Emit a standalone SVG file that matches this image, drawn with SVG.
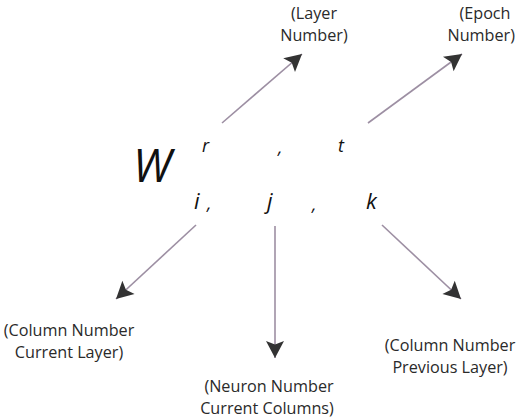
<svg xmlns="http://www.w3.org/2000/svg" width="517" height="420" viewBox="0 0 517 420">
<style>
.lbl{font-family:"Open Sans","Noto Sans",sans-serif;font-size:16.2px;fill:#2a2a2a;text-anchor:middle}
.math{font-family:"Open Sans","Noto Sans",sans-serif;font-style:italic;fill:#111}
.conn{stroke:#9d8fa3;stroke-width:1.6;fill:none;marker-end:url(#ah)}
</style>
<defs>
<marker id="ah" markerUnits="userSpaceOnUse" markerWidth="20" markerHeight="22" viewBox="-1 -11 20 22" refX="17" refY="0" orient="auto">
<path d="M0,-9 L17,0 L0,9 L3.5,0 z" fill="#333"/>
</marker>
</defs>
<rect width="517" height="420" fill="#fff"/>
<g id="connectors">
<line class="conn" x1="222" y1="123" x2="302" y2="54"/>
<line class="conn" x1="368" y1="123" x2="462" y2="54"/>
<line class="conn" x1="196" y1="225" x2="116" y2="299"/>
<line class="conn" x1="275" y1="226" x2="275" y2="358"/>
<line class="conn" x1="382" y1="225" x2="461" y2="299"/>
</g>
<g id="symbol">
<text class="math" x="133" y="182" font-size="45">W</text>
<text class="math" x="202" y="152" font-size="18">r</text>
<text class="math" x="278" y="154" font-size="18">,</text>
<text class="math" x="338" y="152" font-size="18">t</text>
<text class="math" x="194" y="209" font-size="22">i</text>
<text class="math" x="207" y="210" font-size="18">,</text>
<text class="math" x="267" y="209" font-size="22">j</text>
<text class="math" x="312" y="211" font-size="18">,</text>
<text class="math" x="366" y="209" font-size="22">k</text>
</g>
<g id="layer-number">
<text class="lbl" x="314" y="19">(Layer</text>
<text class="lbl" x="314" y="41">Number)</text>
</g>
<g id="epoch-number">
<text class="lbl" x="485" y="19">(Epoch</text>
<text class="lbl" x="515" y="41" style="text-anchor:end">Number)</text>
</g>
<g id="column-current">
<text class="lbl" x="69" y="336">(Column Number</text>
<text class="lbl" x="69" y="358">Current Layer)</text>
</g>
<g id="neuron-number">
<text class="lbl" x="269" y="392">(Neuron Number</text>
<text class="lbl" x="267" y="414">Current Columns)</text>
</g>
<g id="column-previous">
<text class="lbl" x="450" y="351">(Column Number</text>
<text class="lbl" x="450" y="373">Previous Layer)</text>
</g>
</svg>
